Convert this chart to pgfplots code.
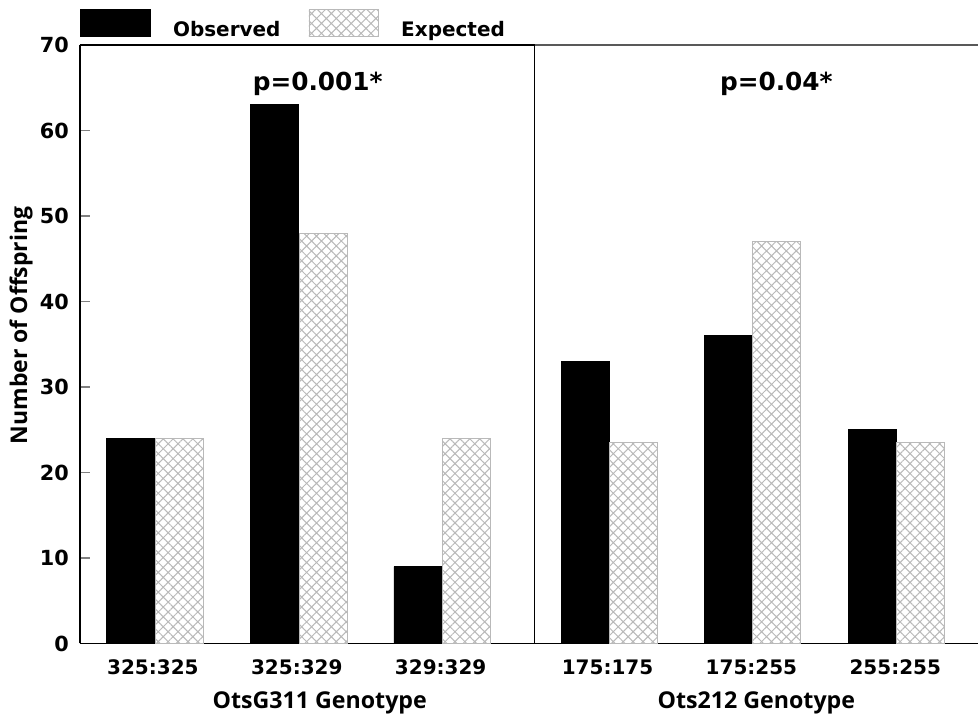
\documentclass[border=0pt]{standalone}
\usepackage{pgfplots}
\pgfplotsset{compat=1.18}
\usepackage{fontspec}
\setmainfont{Open Sans}
\newfontfamily\dejavu{DejaVu Sans}
\usetikzlibrary{patterns.meta}
\begin{document}
\begin{tikzpicture}[font=\bfseries]
\begin{axis}[
  scale only axis, width=449.5pt, height=299.5pt,
  xmin=80, xmax=979, ymin=0, ymax=70,
  clip=false,
  axis x line=bottom, axis y line=left,
  axis line style={-, black, line width=0.6pt},
  ytick={0,10,...,70},
  tick align=inside, major tick length=5pt,
  y tick style={gray, line width=0.6pt},
  x tick style={draw=none},
  xtick={153,297,441,608,752,896},
  xticklabels={325:325,325:329,329:329,175:175,175:255,255:255},
  /pgf/number format/assume math mode=true,
  yticklabel style={font=\dejavu\bfseries\fontsize{10.4}{12}\selectfont, xshift=-2pt},
  xticklabel style={font=\dejavu\bfseries\fontsize{10}{12}\selectfont, yshift=-4.5pt},
  legend style={at={(axis description cs:0,1)}, anchor=south west, yshift=0.5pt,
    draw=none, fill=none, inner xsep=0pt, inner ysep=0pt,
    font=\dejavu\bfseries\fontsize{10}{12}\selectfont,
    /tikz/every even column/.append style={column sep=12pt}},
  legend columns=2,
  legend image code/.code={\draw[#1] (0pt,-3pt) rectangle (35pt,10.5pt);},
]
\addplot[ybar, bar width=48.5, bar shift=0pt, fill=black, draw=black]
  coordinates {(131,24) (274.5,63) (418.5,9) (586,33) (729,36) (873,25)};
\addlegendentry{\hspace{9pt}Observed}
\addplot[ybar, bar width=48.5, bar shift=0pt, draw=gray!55, fill=white,
  postaction={pattern={Hatch[angle=45,distance=3.5pt,line width=0.5pt]}, pattern color=gray!55}]
  coordinates {(179.5,24) (323.5,48) (467,24) (634,23.5) (777,47) (921,23.5)};
\addlegendentry{\hspace{9pt}Expected}
\draw[black, line width=0.6pt] (axis cs:80,70) -- (axis cs:535,70);
\draw[gray!70!black, line width=0.8pt] (axis cs:535,70) -- (axis cs:979,70);
\draw[black, line width=0.6pt] (axis cs:535,0) -- (axis cs:535,70);
\node[font=\dejavu\bfseries\fontsize{12.4}{14}\selectfont] at (axis cs:318,65.5) {p=0.001*};
\node[font=\dejavu\bfseries\fontsize{12.4}{14}\selectfont] at (axis cs:777,65.5) {p=0.04*};
\node[font=\bfseries\fontsize{11.6}{14}\selectfont] at (axis cs:320,-6.95) {OtsG311 Genotype};
\node[font=\bfseries\fontsize{11.6}{14}\selectfont] at (axis cs:757,-6.95) {Ots212 Genotype};
\node[rotate=90, font=\bfseries\fontsize{11.5}{14}\selectfont] at (axis cs:21,37.2) {Number of Offspring};
\path (axis cs:0,75.26) rectangle (axis cs:979,-8.53);
\end{axis}
\end{tikzpicture}
\end{document}
